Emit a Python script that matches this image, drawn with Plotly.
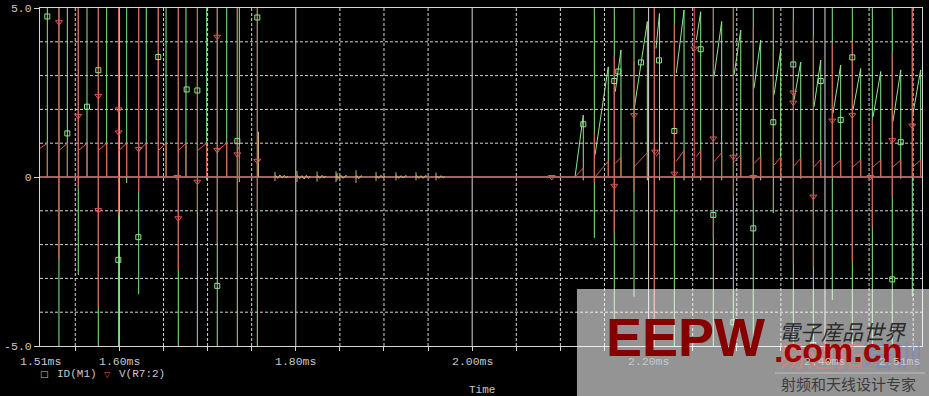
import plotly.graph_objects as go

# ---------------- data (time in ms, values in A / V) ----------------
# ID(M1): vertical spikes
id_spike_t = [1.5183, 1.5315, 1.5410, 1.5534, 1.5633, 1.5761, 1.5856, 1.5992, 1.6083, 1.6219,
              1.6305, 1.6441, 1.6529, 1.6668, 1.6755, 1.6884, 1.6990, 1.7110, 1.7217, 1.7337,
              1.7360, 1.7564,
              2.1385, 2.1611, 2.1835, 2.2065, 2.2292, 2.2734, 2.2961, 2.3187, 2.3414, 2.3641,
              2.3868, 2.4083, 2.4310, 2.4537, 2.4763, 2.4990]
id_spike_hi = [5.0] * 38
id_spike_lo = [0.0, -5.0, 0.0, -2.9, 0.0, -5.0, 0.0, -5.0, -0.18, -3.47,
               0.0, 0.0, 0.0, -5.0, 0.0, -5.0, -0.1, -5.0, 0.0, -5.0,
               -0.15, -5.0,
               -1.8, -5.0, -3.54, -5.0, -5.0, -5.0, -5.0, -5.0, -1.07, -5.0,
               -5.0, -3.64, -5.0, -5.0, -5.0, -3.54]
# ID(M1): ramps (start, end, level after the drop)
id_ramp_t0 = [2.1166, 2.1393, 2.1622, 2.1835, 2.2084, 2.2314, 2.2541, 2.2742, 2.2969,
              2.3195, 2.3422, 2.3649, 2.3876, 2.4091, 2.4318, 2.4545, 2.4771, 2.4998]
id_ramp_v0 = [0.0, 0.65, 2.52, 1.98, 3.80, 3.07, 4.05, 2.97, 3.02,
              2.62, 2.43, 2.28, 2.08, 1.88, 1.98, 1.78, 1.64, 1.88]
id_ramp_t1 = [2.1260, 2.1543, 2.1687, 2.1986, 2.2124, 2.2402, 2.2591, 2.2829, 2.3045,
              2.3271, 2.3498, 2.3725, 2.3952, 2.4178, 2.4405, 2.4632, 2.4859, 2.5085]
id_ramp_v1 = [1.83, 3.26, 3.76, 4.60, 4.84, 4.94, 4.89, 4.60, 4.35,
              4.05, 3.76, 3.40, 3.46, 3.31, 3.21, 3.12, 3.17, 3.17]
id_ramp_end = [-0.1, 0.0, 0.0, -0.1, -0.1, -0.1, -0.1, -0.1, 0.0,
               -0.1, -0.1, -0.05, 0.0, 0.0, 0.0, 0.0, -0.05, 0.0]
id_mark_t = [1.5183, 1.5410, 1.5633, 1.5761, 1.5988, 1.6215, 1.6441, 1.6763, 1.6884, 1.7110,
             1.7337, 1.7564, 2.1260, 2.1611, 2.1657, 2.1914, 2.2118, 2.2292, 2.2591, 2.2734,
             2.2961, 2.3187, 2.3414, 2.3641, 2.3868, 2.3952, 2.4178, 2.4310, 2.4763, 2.4859]
id_mark_v = [4.75, 1.29, 2.08, 3.16, -2.45, -1.78, 3.55, 2.59, 2.56, -3.22,
             1.06, 4.72, 1.56, 2.84, 3.12, 3.39, 3.45, 1.36, 3.78, -1.12,
             -4.30, -1.52, 1.62, 3.33, -4.97, 2.84, 1.69, 3.54, -3.03, 1.03]

# V(R7:2): baseline, spikes, sawtooth ramps
vr_base_t = [1.51, 2.51]
vr_base_v = [0.0, 0.0]
vr_spike_t = [1.5315, 1.5534, 1.5761, 1.5992, 1.6219, 1.6441, 1.6668, 1.6884, 1.7110, 1.7337,
              1.7564,
              2.1385, 2.1611, 2.1835, 2.2065, 2.2292, 2.2518, 2.2734, 2.2961, 2.3187, 2.3414,
              2.3641, 2.3868, 2.4083, 2.4310, 2.4537, 2.4763, 2.4990]
vr_spike_hi = [5.0, 5.0, 5.0, 5.0, 5.0, 5.0, 5.0, 5.0, 5.0, 5.0,
               5.0,
               1.3, 3.56, 3.41, 5.0, 4.5, 5.0, 5.0, 5.0, 4.4, 3.76,
               4.6, 4.15, 3.95, 4.0, 1.69, 3.66, 5.0]
vr_spike_lo = [-2.45, -0.33, -3.85, -1.12, -0.46, 0.0, -2.75, -1.03, -1.97, -0.88,
               -1.03,
               -0.15, -1.66, -0.43, -5.0, 0.0, 0.0, -1.8, -0.58, -0.68, 0.0,
               -2.55, -2.65, 0.0, -2.53, -1.47, -0.58, 0.0]
vr_ramp_t0 = [1.5100, 1.5315, 1.5534, 1.5761, 1.5992, 1.6219, 1.6441, 1.6668, 1.6884, 1.7110,
              1.7337,
              2.1166, 2.1393, 2.1622, 2.1845, 2.2084, 2.2314, 2.2541, 2.2742, 2.2969,
              2.3195, 2.3422, 2.3649, 2.3876, 2.4091, 2.4318, 2.4545, 2.4771, 2.4998]
vr_ramp_v0 = [0.85, 0.78, 0.78, 0.78, 0.78, 0.78, 0.78, 0.78, 0.78, 0.78,
              0.80,
              0.0, 0.0, 0.40, 0.33, 0.60, 0.47, 0.60, 0.45, 0.45,
              0.40, 0.35, 0.33, 0.30, 0.30, 0.30, 0.30, 0.30, 0.30]
vr_ramp_t1 = [1.5183, 1.5410, 1.5633, 1.5856, 1.6083, 1.6305, 1.6529, 1.6755, 1.6990, 1.7217,
              1.7360,
              2.1260, 2.1543, 2.1687, 2.1986, 2.2124, 2.2402, 2.2591, 2.2829, 2.3045,
              2.3271, 2.3498, 2.3725, 2.3952, 2.4178, 2.4405, 2.4632, 2.4859, 2.5085]
vr_ramp_v1 = [1.0, 1.0, 1.0, 1.0, 1.0, 1.0, 1.0, 1.0, 1.0, 1.0,
              0.90,
              0.27, 0.47, 0.58, 0.72, 0.75, 0.78, 0.78, 0.72, 0.65,
              0.60, 0.58, 0.55, 0.52, 0.50, 0.50, 0.50, 0.50, 0.50]
vr_mark_t = [1.5315, 1.5534, 1.5761, 1.5761, 1.5992, 1.5992, 1.6219, 1.6657, 1.6668, 1.6884,
             1.7110, 1.7110, 1.7337, 1.7564,
             2.0902, 2.1611, 2.1835, 2.2073, 2.2292, 2.2518, 2.2734, 2.2961, 2.3187, 2.3641,
             2.3641, 2.3868, 2.4083, 2.4310, 2.4514, 2.4763, 2.4990]
vr_mark_v = [4.58, 1.81, 2.40, -0.98, 2.00, 1.32, 0.83, 0.00, -1.22, -0.14,
             4.15, 0.80, 0.67, 0.48,
             0.00, -0.26, 1.83, 0.75, 0.10, 3.80, 1.14, 0.60, 0.00, 2.50,
             2.20, -0.58, 1.67, 1.83, 0.00, 1.09, 1.52]

# small overlapping ripple where both traces sit near zero
noise_t = [1.7577, 1.7577, None,
           1.7764, 1.7764, None, 1.7770, 1.7795, 1.7820, 1.7845, 1.7870, 1.7895, 1.7912, None,
           1.8014, 1.8014, None, 1.8020, 1.8045, 1.8070, 1.8095, 1.8120, 1.8145, 1.8161, None,
           1.8241, 1.8241, None, 1.8247, 1.8272, 1.8297, 1.8322, 1.8343, None,
           1.8456, 1.8456, None, 1.8468, 1.8468, None, 1.8462, 1.8487, 1.8512, 1.8537, 1.8562, 1.8581, None,
           1.8683, 1.8683, None, 1.8689, 1.8714, 1.8739, 1.8751, None,
           1.8910, 1.8910, None, 1.8916, 1.8941, 1.8966, 1.8991, 1.9012, None,
           1.9136, 1.9136, None, 1.9142, 1.9167, 1.9192, 1.9217, 1.9242, 1.9261, None,
           1.9363, 1.9363, None, 1.9369, 1.9394, 1.9419, 1.9444, 1.9469, 1.9488, None,
           1.9590, 1.9590, None, 1.9596, 1.9621, 1.9646, 1.9671, 1.9692]
noise_v = [1.34, 0.0, None,
           0.15, -0.12, None, 0.05, -0.04, 0.06, -0.03, 0.05, -0.03, 0.03, None,
           0.18, -0.15, None, 0.05, -0.05, 0.04, -0.06, 0.05, -0.04, 0.03, None,
           0.16, -0.14, None, 0.05, -0.04, 0.05, -0.03, 0.03, None,
           0.17, -0.15, None, 0.12, -0.1, None, 0.05, -0.04, 0.05, -0.04, 0.04, 0.03, None,
           0.20, -0.18, None, 0.05, -0.05, 0.04, 0.02, None,
           0.15, -0.12, None, 0.04, -0.04, 0.05, -0.03, 0.03, None,
           0.14, -0.10, None, 0.05, -0.04, 0.04, -0.03, 0.04, 0.02, None,
           0.14, -0.10, None, 0.05, -0.04, 0.04, -0.04, 0.04, 0.02, None,
           0.13, -0.10, None, 0.04, -0.04, 0.04, -0.03, 0.02]

# grid and tick labels
grid_minor_x = [1.55, 1.65, 1.70, 1.75, 1.85, 1.90, 1.95, 2.05, 2.10, 2.15,
                2.25, 2.30, 2.35, 2.45, 2.50]
grid_major_x = [1.60, 1.80, 2.00, 2.20, 2.40]
grid_minor_y = [-4, -3, -2, -1, 1, 2, 3, 4]
grid_major_y = [0]
x_label_vals = [1.51, 1.60, 1.80, 2.00, 2.20, 2.40, 2.51]
x_label_text = ["1.51ms", "1.60ms", "1.80ms", "2.00ms", "2.20ms", "2.40ms", "2.51ms"]
y_label_vals = [-5, 0, 5]
y_label_text = ["-5.0", "0", "5.0"]
series_names = ["ID(M1)", "V(R7:2)"]

# ---------------- styling ----------------
GREEN = "#8ee88e"
RED = "#e05656"
TAN = "#c8b47a"
GRID = "#d4d4d4"
TXT = "#c8c8c8"
MONO = "Liberation Mono, DejaVu Sans Mono, monospace"


def spike_xy(ts, his, los):
    x, y = [], []
    for t, h, l in zip(ts, his, los):
        x += [t, t, None]
        y += [h, l, None]
    return x, y


def ramp_xy(t0s, v0s, t1s, v1s, ends):
    x, y = [], []
    for t0, v0, t1, v1, e in zip(t0s, v0s, t1s, v1s, ends):
        x += [t0, t1, t1, None]
        y += [v0, v1, e, None]
    return x, y


gx1, gy1 = spike_xy(id_spike_t, id_spike_hi, id_spike_lo)
gx2, gy2 = ramp_xy(id_ramp_t0, id_ramp_v0, id_ramp_t1, id_ramp_v1, id_ramp_end)
rx1, ry1 = spike_xy(vr_spike_t, vr_spike_hi, vr_spike_lo)
rx2, ry2 = ramp_xy(vr_ramp_t0, vr_ramp_v0, vr_ramp_t1, vr_ramp_v1, [0.0] * len(vr_ramp_t0))

fig = go.Figure()
fig.add_trace(go.Scatter(x=gx1 + gx2, y=gy1 + gy2, mode="lines",
                         line=dict(color=GREEN, width=1), name=series_names[0],
                         showlegend=False, hoverinfo="skip"))
fig.add_trace(go.Scatter(x=vr_base_t + [None] + rx1 + rx2, y=vr_base_v + [None] + ry1 + ry2,
                         mode="lines", line=dict(color=RED, width=1), name=series_names[1],
                         showlegend=False, hoverinfo="skip"))
fig.add_trace(go.Scatter(x=noise_t, y=noise_v, mode="lines", line=dict(color=TAN, width=1),
                         showlegend=False, hoverinfo="skip"))
fig.add_trace(go.Scatter(x=id_mark_t, y=id_mark_v, mode="markers",
                         marker=dict(symbol="square-open", size=5, color=GREEN,
                                     line=dict(width=1, color=GREEN)),
                         showlegend=False, hoverinfo="skip"))
fig.add_trace(go.Scatter(x=vr_mark_t, y=vr_mark_v, mode="markers",
                         marker=dict(symbol="triangle-down-open", size=6, color=RED,
                                     line=dict(width=1, color=RED)),
                         showlegend=False, hoverinfo="skip"))

shapes = []
for gx in grid_minor_x:
    shapes.append(dict(type="line", xref="x", yref="paper", x0=gx, x1=gx, y0=0, y1=1,
                       line=dict(color=GRID, width=1, dash="3px,2px"), layer="below"))
for gx in grid_major_x:
    shapes.append(dict(type="line", xref="x", yref="paper", x0=gx, x1=gx, y0=0, y1=1,
                       line=dict(color=GRID, width=1), layer="below"))
for gy in grid_minor_y:
    shapes.append(dict(type="line", xref="paper", yref="y", x0=0, x1=1, y0=gy, y1=gy,
                       line=dict(color=GRID, width=1, dash="3px,2px"), layer="below"))
for gy in grid_major_y:
    shapes.append(dict(type="line", xref="paper", yref="y", x0=0, x1=1, y0=gy, y1=gy,
                       line=dict(color=GRID, width=1), layer="below"))

# watermark box (semi-transparent, on top)
shapes.append(dict(type="rect", xref="paper", yref="paper", x0=0.6088, x1=1.01,
                   y0=-0.15, y1=0.1686, fillcolor="rgba(255,255,255,0.58)",
                   line=dict(width=0), layer="above"))
shapes.append(dict(type="line", xref="paper", yref="paper", x0=0.8333, x1=1.0034,
                   y0=-0.0799, y1=-0.0799, line=dict(color="rgba(200,200,200,0.8)", width=1),
                   layer="above"))

annotations = []
# watermark texts
annotations.append(dict(xref="paper", yref="paper", x=0.7324, y=0.026, text="<b>EEPW</b>",
                        showarrow=False, xanchor="center", yanchor="middle",
                        font=dict(family="Liberation Sans, Arial", size=54, color="#860000")))
annotations.append(dict(xref="paper", yref="paper", x=0.9093, y=0.0444, text="<i>電子産品世界</i>",
                        showarrow=False, xanchor="center", yanchor="middle",
                        font=dict(family="Noto Sans CJK JP", size=21, color="#2a2a2a")))
annotations.append(dict(xref="paper", yref="paper", x=0.918, y=-0.0237,
                        text="易迪拓<span style='color:rgba(110,130,210,0.75)'>培训</span>",
                        showarrow=False, xanchor="center", yanchor="middle",
                        font=dict(family="Noto Sans CJK SC", size=29, color="rgba(225,130,130,0.7)")))
annotations.append(dict(xref="paper", yref="paper", x=0.905, y=-0.012, text="<b>.com.cn</b>",
                        showarrow=False, xanchor="center", yanchor="middle",
                        font=dict(family="Liberation Sans, Arial", size=34, color="#a00000")))
annotations.append(dict(xref="paper", yref="paper", x=0.917, y=-0.112, text="射频和天线设计专家",
                        showarrow=False, xanchor="center", yanchor="middle",
                        font=dict(family="Noto Sans CJK SC", size=15, color="#3c3c3c")))

# x tick labels
for v, s in zip(x_label_vals, x_label_text):
    annotations.append(dict(xref="x", yref="paper", x=v, y=-0.0444, text=s, showarrow=False,
                            xanchor="right" if v == x_label_vals[-1] else "center",
                            yanchor="middle", font=dict(family=MONO, size=11.5, color=TXT)))
# legend
annotations.append(dict(xref="paper", yref="paper", x=(44.5 - 40) / 882, y=-0.0843, text="□",
                        showarrow=False, xanchor="center", yanchor="middle",
                        font=dict(family="DejaVu Sans", size=9, color=GREEN)))
annotations.append(dict(xref="paper", yref="paper", x=(55 - 40) / 882, y=-0.0843, text=series_names[0],
                        showarrow=False, xanchor="left", yanchor="middle",
                        font=dict(family=MONO, size=11, color=TXT)))
annotations.append(dict(xref="paper", yref="paper", x=(107.5 - 40) / 882, y=-0.0843, text="▽",
                        showarrow=False, xanchor="center", yanchor="middle",
                        font=dict(family="DejaVu Sans", size=8, color=RED)))
annotations.append(dict(xref="paper", yref="paper", x=(117 - 40) / 882, y=-0.0843, text=series_names[1],
                        showarrow=False, xanchor="left", yanchor="middle",
                        font=dict(family=MONO, size=11, color=TXT)))
annotations.append(dict(xref="paper", yref="paper", x=0.501, y=-0.130, text="Time",
                        showarrow=False, xanchor="center", yanchor="middle",
                        font=dict(family=MONO, size=11, color=TXT)))

fig.update_layout(
    width=929, height=396,
    margin=dict(l=40, r=7, t=8, b=50, autoexpand=False),
    paper_bgcolor="black", plot_bgcolor="black",
    shapes=shapes, annotations=annotations,
    showlegend=False,
    xaxis=dict(range=[1.51, 2.51], showgrid=False, zeroline=False, automargin=False,
               showline=True, mirror=True, linecolor=GRID, linewidth=1,
               tickvals=grid_minor_x + grid_major_x, ticks="outside", ticklen=4,
               tickcolor=GRID, showticklabels=False),
    yaxis=dict(range=[-5, 5], showgrid=False, zeroline=False, automargin=False,
               showline=True, mirror=True, linecolor=GRID, linewidth=1,
               tickvals=y_label_vals, ticktext=y_label_text, ticks="outside", ticklen=5,
               tickcolor=GRID, tickfont=dict(family=MONO, size=11.5, color=TXT)),
)

fig.write_html("out.html")
